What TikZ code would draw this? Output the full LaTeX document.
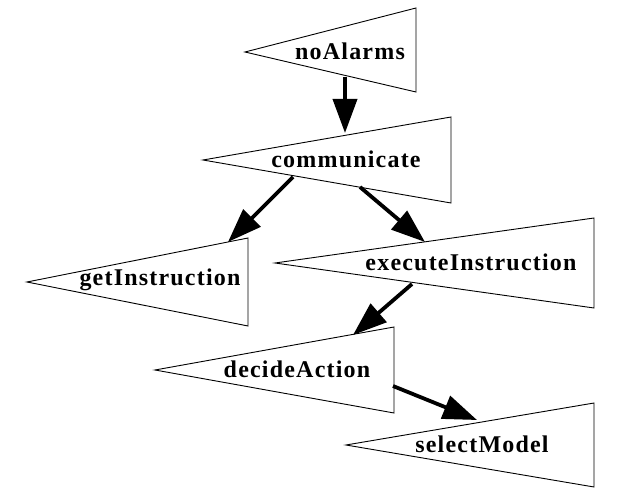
\documentclass[tikz,border=0pt]{standalone}
\usepackage{fontspec}
\newfontfamily\lblfont[LetterSpace=5]{Liberation Serif}
\usetikzlibrary{arrows.meta}
\begin{document}
\begin{tikzpicture}[x=1pt,y=-1pt,
  tri/.style={draw=black,line width=0.9pt,line join=miter},
  lbl/.style={inner sep=0pt,anchor=base,font=\lblfont\bfseries\fontsize{24}{28}\selectfont},
  edge/.style={draw=black,line width=3.8pt,-{Triangle[length=34pt,width=24pt]}}]
\fill[white] (0,0) rectangle (625,497);
\useasboundingbox (0,0) rectangle (625,497);
% triangles
\draw[tri] (245,52) coordinate (tA) -- (416,8) -- (416,92) -- cycle;
\draw[tri] (203,160) coordinate (tB) -- (451,117) -- (451,203) -- cycle;
\draw[tri] (27,282) coordinate (tC) -- (248,238) -- (248,326) -- cycle;
\draw[tri] (275,263) coordinate (tD) -- (594,218) -- (594,308) -- cycle;
\draw[tri] (155,370) coordinate (tE) -- (394,327) -- (394,413) -- cycle;
\draw[tri] (346,445) coordinate (tF) -- (594,403) -- (594,487) -- cycle;
% labels
\node[lbl] (noAlarms) at (350,60) {noAlarms};
\node[lbl] (communicate) at (346,168) {communicate};
\node[lbl] (getInstruction) at (160,286) {getInstruction};
\node[lbl] (executeInstruction) at (471,271) {executeInstruction};
\node[lbl] (decideAction) at (297,378) {decideAction};
\node[lbl] (selectModel) at (482,453) {selectModel};
% edge end points
\coordinate (a1) at (345,77);  \coordinate (b1) at (345,133);
\coordinate (a2) at (293,177); \coordinate (b2) at (228,242);
\coordinate (a3) at (360,187); \coordinate (b3) at (425,242);
\coordinate (a4) at (412,284); \coordinate (b4) at (353,335);
\coordinate (a5) at (393,386); \coordinate (b5) at (477,420);
\draw[edge] (a1) -- (b1);
\draw[edge] (a2) -- (b2);
\draw[edge] (a3) -- (b3);
\draw[edge] (a4) -- (b4);
\draw[edge] (a5) -- (b5);
\end{tikzpicture}
\end{document}
